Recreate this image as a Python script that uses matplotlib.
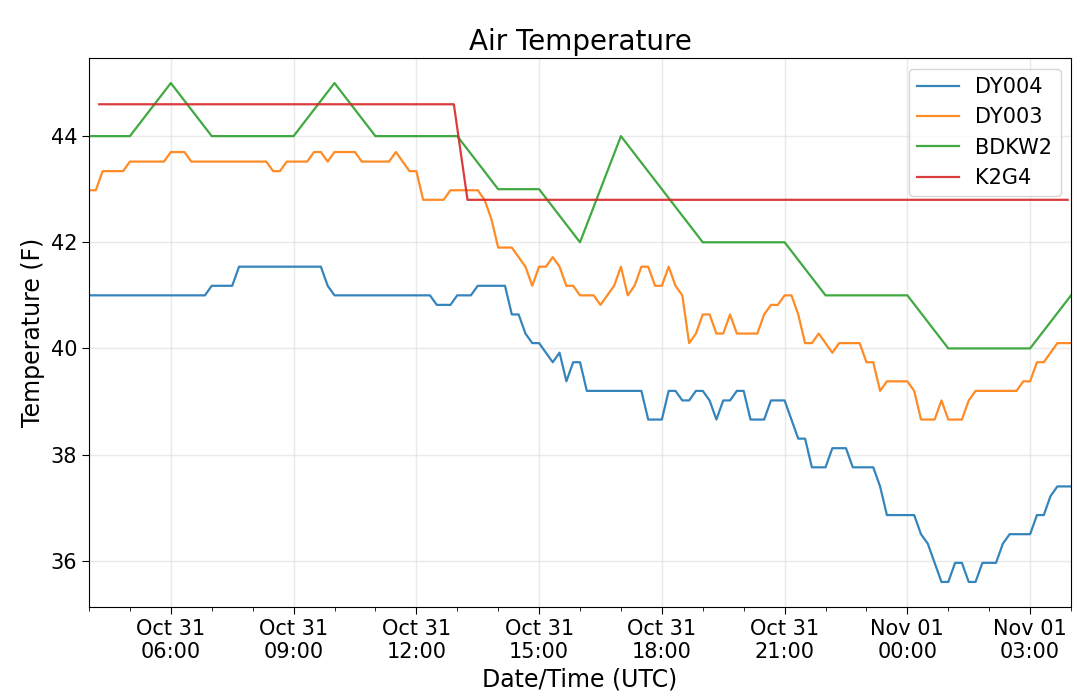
import matplotlib
matplotlib.use("Agg")
import matplotlib.pyplot as plt
import matplotlib.dates as mdates
import pandas as pd

# 10-minute observation times for DY004 / DY003
times_10min = pd.date_range("2018-10-31 04:00", "2018-11-01 04:00", freq="10min")

dy004 = [
    41.0, 41.0, 41.0, 41.0, 41.0, 41.0,          # 04:00
    41.0, 41.0, 41.0, 41.0, 41.0, 41.0,          # 05:00
    41.0, 41.0, 41.0, 41.0, 41.0, 41.0,          # 06:00
    41.18, 41.18, 41.18, 41.18, 41.54, 41.54,    # 07:00
    41.54, 41.54, 41.54, 41.54, 41.54, 41.54,    # 08:00
    41.54, 41.54, 41.54, 41.54, 41.54, 41.18,    # 09:00
    41.0, 41.0, 41.0, 41.0, 41.0, 41.0,          # 10:00
    41.0, 41.0, 41.0, 41.0, 41.0, 41.0,          # 11:00
    41.0, 41.0, 41.0, 40.82, 40.82, 40.82,       # 12:00
    41.0, 41.0, 41.0, 41.18, 41.18, 41.18,       # 13:00
    41.18, 41.18, 40.64, 40.64, 40.28, 40.1,     # 14:00
    40.1, 39.92, 39.74, 39.92, 39.38, 39.74,     # 15:00
    39.74, 39.2, 39.2, 39.2, 39.2, 39.2,         # 16:00
    39.2, 39.2, 39.2, 39.2, 38.66, 38.66,        # 17:00
    38.66, 39.2, 39.2, 39.02, 39.02, 39.2,       # 18:00
    39.2, 39.02, 38.66, 39.02, 39.02, 39.2,      # 19:00
    39.2, 38.66, 38.66, 38.66, 39.02, 39.02,     # 20:00
    39.02, 38.66, 38.3, 38.3, 37.76, 37.76,      # 21:00
    37.76, 38.12, 38.12, 38.12, 37.76, 37.76,    # 22:00
    37.76, 37.76, 37.4, 36.86, 36.86, 36.86,     # 23:00
    36.86, 36.86, 36.5, 36.32, 35.96, 35.6,      # 00:00
    35.6, 35.96, 35.96, 35.6, 35.6, 35.96,       # 01:00
    35.96, 35.96, 36.32, 36.5, 36.5, 36.5,       # 02:00
    36.5, 36.86, 36.86, 37.22, 37.4, 37.4,       # 03:00
    37.4,                                        # 04:00
]

dy003 = [
    42.98, 42.98, 43.34, 43.34, 43.34, 43.34,    # 04:00
    43.52, 43.52, 43.52, 43.52, 43.52, 43.52,    # 05:00
    43.7, 43.7, 43.7, 43.52, 43.52, 43.52,       # 06:00
    43.52, 43.52, 43.52, 43.52, 43.52, 43.52,    # 07:00
    43.52, 43.52, 43.52, 43.34, 43.34, 43.52,    # 08:00
    43.52, 43.52, 43.52, 43.7, 43.7, 43.52,      # 09:00
    43.7, 43.7, 43.7, 43.7, 43.52, 43.52,        # 10:00
    43.52, 43.52, 43.52, 43.7, 43.52, 43.34,     # 11:00
    43.34, 42.8, 42.8, 42.8, 42.8, 42.98,        # 12:00
    42.98, 42.98, 42.98, 42.98, 42.8, 42.44,     # 13:00
    41.9, 41.9, 41.9, 41.72, 41.54, 41.18,       # 14:00
    41.54, 41.54, 41.72, 41.54, 41.18, 41.18,    # 15:00
    41.0, 41.0, 41.0, 40.82, 41.0, 41.18,        # 16:00
    41.54, 41.0, 41.18, 41.54, 41.54, 41.18,     # 17:00
    41.18, 41.54, 41.18, 41.0, 40.1, 40.28,      # 18:00
    40.64, 40.64, 40.28, 40.28, 40.64, 40.28,    # 19:00
    40.28, 40.28, 40.28, 40.64, 40.82, 40.82,    # 20:00
    41.0, 41.0, 40.64, 40.1, 40.1, 40.28,        # 21:00
    40.1, 39.92, 40.1, 40.1, 40.1, 40.1,         # 22:00
    39.74, 39.74, 39.2, 39.38, 39.38, 39.38,     # 23:00
    39.38, 39.2, 38.66, 38.66, 38.66, 39.02,     # 00:00
    38.66, 38.66, 38.66, 39.02, 39.2, 39.2,      # 01:00
    39.2, 39.2, 39.2, 39.2, 39.2, 39.38,         # 02:00
    39.38, 39.74, 39.74, 39.92, 40.1, 40.1,      # 03:00
    40.1,                                        # 04:00
]

# Hourly observations for BDKW2
times_hourly = pd.date_range("2018-10-31 04:00", "2018-11-01 04:00", freq="1h")
bdkw2 = [44, 44, 45, 44, 44, 44, 45, 44, 44, 44, 43, 43, 42,
         44, 43, 42, 42, 42, 41, 41, 41, 40, 40, 40, 41]

# K2G4 observations (values change only at the listed times)
k2g4_times = pd.to_datetime(["2018-10-31 04:15", "2018-10-31 12:55",
                             "2018-10-31 13:15", "2018-11-01 03:55"])
k2g4 = [44.6, 44.6, 42.8, 42.8]

series_names = ["DY004", "DY003", "BDKW2", "K2G4"]

fig = plt.figure(figsize=(10.8, 7.0), dpi=100)
ax = fig.add_axes([0.0824, 0.133, 0.9093, 0.784])

ax.plot(times_10min, dy004, color="#1f77b4", lw=1.6, alpha=0.9, label=series_names[0])
ax.plot(times_10min, dy003, color="#ff7f0e", lw=1.6, alpha=0.9, label=series_names[1])
ax.plot(times_hourly, bdkw2, color="#2ca02c", lw=1.6, alpha=0.9, label=series_names[2])
ax.plot(k2g4_times, k2g4, color="#d62728", lw=1.6, alpha=0.9, label=series_names[3])

ax.set_xlim(pd.Timestamp("2018-10-31 04:00"), pd.Timestamp("2018-11-01 04:00"))
ax.set_yticks([36, 38, 40, 42, 44])
ax.xaxis.set_major_locator(mdates.HourLocator(byhour=range(0, 24, 3)))
ax.xaxis.set_minor_locator(mdates.HourLocator())
ax.xaxis.set_major_formatter(mdates.DateFormatter("%b %d\n%H:%M"))

ax.grid(True, which="major", color="#dcdcdc", lw=1.0, alpha=0.6)
ax.tick_params(axis="both", which="major", labelsize=15, length=5)
ax.tick_params(axis="x", which="minor", length=3)

ax.set_title("Air Temperature", fontsize=20)
ax.set_xlabel("Date/Time (UTC)", fontsize=17)
ax.set_ylabel("Temperature (F)", fontsize=17)
ax.legend(loc="upper right", fontsize=15)

fig.savefig("out.png", dpi=100)
